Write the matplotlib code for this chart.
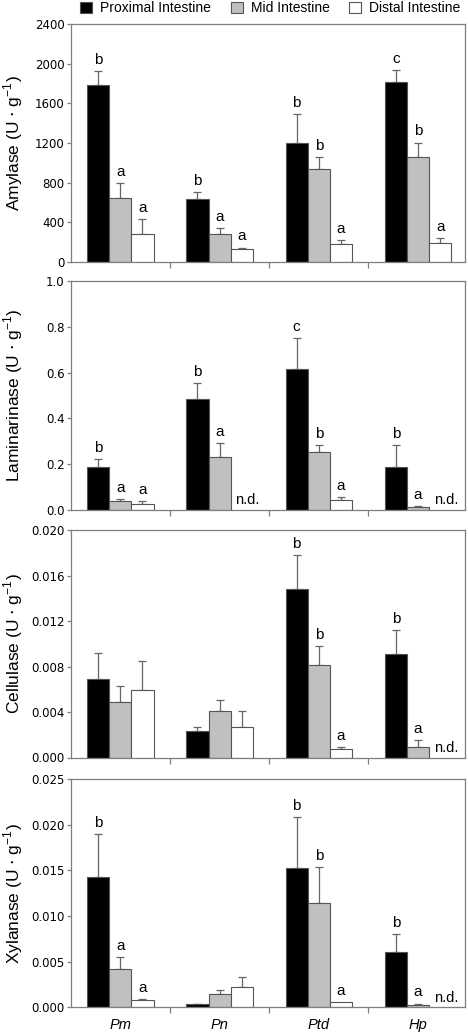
import matplotlib
matplotlib.use("Agg")
import matplotlib.pyplot as plt
import numpy as np
from matplotlib.patches import Patch

plt.rcParams['font.family'] = ['Liberation Sans', 'DejaVu Sans']

species = ["Pm", "Pn", "Ptd", "Hp"]
series = ["Proximal Intestine", "Mid Intestine", "Distal Intestine"]

# Amylase
amy_prox = [1781, 633, 1195, 1818]
amy_prox_err = [1929, 707, 1491, 1932]
amy_mid = [650, 286, 936, 1060]
amy_mid_err = [798, 343, 1054, 1205]
amy_dist = [286, 128, 182, 192]
amy_dist_err = [431, 145, 219, 239]
amy_letters = [["b", "a", "a"], ["b", "a", "a"], ["b", "b", "a"], ["c", "b", "a"]]

# Laminarinase (None = n.d.)
lam_prox = [0.188, 0.483, 0.618, 0.188]
lam_prox_err = [0.223, 0.556, 0.750, 0.282]
lam_mid = [0.036, 0.229, 0.254, 0.010]
lam_mid_err = [0.045, 0.291, 0.282, 0.015]
lam_dist = [0.023, None, 0.042, None]
lam_dist_err = [0.036, None, 0.055, None]
lam_letters = [["b", "a", "a"], ["b", "a", ""], ["c", "b", "a"], ["b", "a", ""]]

# Cellulase
cel_prox = [0.0069, 0.0023, 0.0148, 0.0091]
cel_prox_err = [0.0092, 0.0027, 0.0178, 0.0112]
cel_mid = [0.0049, 0.0041, 0.0081, 0.0009]
cel_mid_err = [0.0063, 0.0051, 0.0098, 0.0015]
cel_dist = [0.0059, 0.0027, 0.00075, None]
cel_dist_err = [0.0085, 0.0041, 0.0009, None]
cel_letters = [["", "", ""], ["", "", ""], ["b", "b", "a"], ["b", "a", ""]]

# Xylanase
xyl_prox = [0.0143, 0.00033, 0.0152, 0.0061]
xyl_prox_err = [0.0190, 0.0004, 0.0208, 0.0080]
xyl_mid = [0.0042, 0.0015, 0.0114, 0.00026]
xyl_mid_err = [0.0055, 0.0019, 0.0154, 0.0004]
xyl_dist = [0.0008, 0.0022, 0.00055, None]
xyl_dist_err = [0.0009, 0.0033, 0.00055, None]
xyl_letters = [["b", "a", "a"], ["", "", ""], ["b", "b", "a"], ["b", "a", ""]]

panels = [
    ("Amylase", [amy_prox, amy_mid, amy_dist], [amy_prox_err, amy_mid_err, amy_dist_err],
     amy_letters, 2400, [0, 400, 800, 1200, 1600, 2000, 2400], "{:.0f}"),
    ("Laminarinase", [lam_prox, lam_mid, lam_dist], [lam_prox_err, lam_mid_err, lam_dist_err],
     lam_letters, 1.0, [0, 0.2, 0.4, 0.6, 0.8, 1.0], "{:.1f}"),
    ("Cellulase", [cel_prox, cel_mid, cel_dist], [cel_prox_err, cel_mid_err, cel_dist_err],
     cel_letters, 0.020, [0, 0.004, 0.008, 0.012, 0.016, 0.020], "{:.3f}"),
    ("Xylanase", [xyl_prox, xyl_mid, xyl_dist], [xyl_prox_err, xyl_mid_err, xyl_dist_err],
     xyl_letters, 0.025, [0, 0.005, 0.010, 0.015, 0.020, 0.025], "{:.3f}"),
]

W, H = 468, 1034
fig = plt.figure(figsize=(W / 100, H / 100), dpi=100)

# (top px, bottom px)
rows = [(24, 262), (281.3, 509.7), (530.3, 757.5), (779, 1007.3)]
left_px, right_px = 70.7, 464.7

fills = ["#000000", "#c0c0c0", "#ffffff"]
spine_c = "#7f7f7f"
edge_c = "#555555"
bw = 0.223
offsets = [-bw, 0, bw]
x = np.arange(len(species))

for pi, (name, vals, errs, letters, ymax, yticks, fmt) in enumerate(panels):
    top, bot = rows[pi]
    ax = fig.add_axes([left_px / W, 1 - bot / H, (right_px - left_px) / W, (bot - top) / H])
    for si in range(3):
        for ci in range(len(species)):
            v = vals[si][ci]
            xc = x[ci] + offsets[si]
            if v is None:
                ax.annotate("n.d.", (xc + 0.06, 0), xytext=(0, 2), textcoords="offset points",
                            ha="center", va="bottom", fontsize=10.5)
                continue
            ax.bar(xc, v, width=bw, color=fills[si], edgecolor=edge_c, linewidth=0.8, zorder=2)
            e = errs[si][ci]
            if e is not None and e > v:
                ax.errorbar(xc, v, yerr=[[0], [e - v]], fmt="none", ecolor="#666666",
                            elinewidth=0.9, capsize=2.6, capthick=0.9, zorder=1)
            top_y = e if e is not None else v
            lab = letters[ci][si]
            if lab:
                ax.annotate(lab, (xc, top_y), xytext=(0, 3), textcoords="offset points",
                            ha="center", va="bottom", fontsize=11)
    ax.set_xlim(-0.5, 3.47)
    ax.set_ylim(0, ymax)
    ax.set_yticks(yticks)
    ax.set_yticklabels([fmt.format(t) for t in yticks], fontsize=8.5, family="DejaVu Sans")
    for s in ax.spines.values():
        s.set_color(spine_c)
        s.set_linewidth(0.9)
    ax.tick_params(axis="y", direction="out", length=3, color=spine_c, width=0.9, pad=1.5)
    ax.set_xticks(x)
    ax.set_xticks([0.5, 1.5, 2.5], minor=True)
    ax.tick_params(axis="x", which="major", length=0, pad=8)
    ax.tick_params(axis="x", which="minor", direction="out", length=4, color=spine_c, width=0.9)
    if pi == 3:
        ax.set_xticklabels(species, fontsize=10.5, style="italic")
    else:
        ax.set_xticklabels([])
    ax.set_ylabel(name + r" (U $\cdot$ g$^{\mathregular{-1}}$)", fontsize=12.5)
    ax.yaxis.set_label_coords(-0.115, 0.5)

handles = [Patch(facecolor=fills[i], edgecolor=edge_c, linewidth=0.8) for i in range(3)]
fig.legend(handles, series, loc="center", bbox_to_anchor=(270.5 / W, 1 - 8.5 / H), ncol=3,
           frameon=False, fontsize=10, handlelength=0.85, handleheight=0.85,
           handletextpad=0.6, columnspacing=1.4, borderpad=0, borderaxespad=0)

fig.savefig("out.png", dpi=100)
